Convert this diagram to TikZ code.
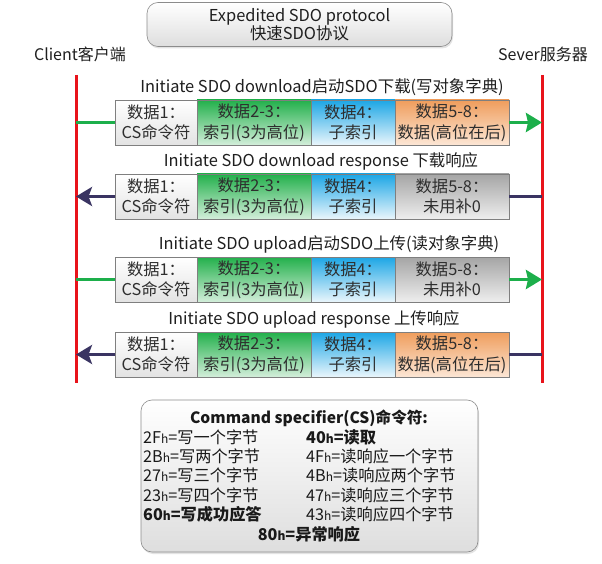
\documentclass[tikz,border=0pt]{standalone}
\usepackage{fontspec}
\setmainfont{Noto Sans CJK SC}
\usetikzlibrary{arrows.meta,positioning,calc,shadows}
\definecolor{lifered}{HTML}{E8131B}
\definecolor{sendgreen}{HTML}{1DAF4B}
\definecolor{backpurple}{HTML}{3A3462}
\definecolor{cellline}{HTML}{7F7F7F}
\tikzset{
  cellbox/.style={draw=cellline, line width=0.6pt, minimum height=45pt, inner sep=0pt,
                  outer sep=0pt, align=center, text=black!82,
                  font=\fontsize{16.3}{20.5}\selectfont},
  cellcs/.style={cellbox, minimum width=82pt, top color=white, bottom color=black!11},
  cellidx/.style={cellbox, minimum width=114pt, top color={rgb,255:red,34;green,176;blue,75},
                  bottom color={rgb,255:red,211;green,238;blue,218}},
  cellsub/.style={cellbox, minimum width=84pt, top color={rgb,255:red,28;green,166;blue,229},
                  bottom color={rgb,255:red,234;green,246;blue,252}},
  celldata/.style={cellbox, minimum width=114pt, top color={rgb,255:red,239;green,157;blue,92},
                   bottom color={rgb,255:red,252;green,230;blue,213}},
  cellnone/.style={cellbox, minimum width=114pt, top color={rgb,255:red,165;green,165;blue,165},
                   bottom color={rgb,255:red,238;green,238;blue,238}},
  rowlab/.style={inner sep=0pt, font=\fontsize{16.4}{18}\selectfont, text=black!88},
  sidelab/.style={inner sep=0pt, font=\fontsize{16}{18}\selectfont, text=black!88},
  lifeline/.style={draw=lifered, line width=3pt},
  sendline/.style={draw=sendgreen, line width=3.5pt},
  sendarr/.style={sendline, -{Stealth[length=16pt,width=19pt,inset=2pt]}},
  backline/.style={draw=backpurple, line width=3.5pt},
  backarr/.style={backline, -{Stealth[length=16pt,width=19pt,inset=3.5pt]}},
  roundbox/.style={draw=black!45, line width=0.6pt, rounded corners=11pt,
                   top color=white, bottom color=black!13,
                   drop shadow={opacity=0.22, shadow xshift=1pt, shadow yshift=-2pt}},
  cslab/.style={inner sep=0pt, anchor=west, font=\fontsize{16.2}{18}\selectfont, text=black!90},
}
\newcommand{\hx}{{\fontsize{12}{12}\selectfont h}}
\newcommand{\sdorow}[5]{%
  \node[cellcs, anchor=north west] (#1a) at (115,#2) {数据1：\\CS命令符};
  \node[cellidx, right=0pt of #1a] (#1b) {数据2-3：\\索引(3为高位)};
  \node[cellsub, right=0pt of #1b] (#1c) {数据4：\\子索引};
  \node[#3, right=0pt of #1c] (#1d) {数据5-8：\\#4};
  \node[rowlab, above=4pt of #1b.north east, xshift=#5] (#1t)
}

\begin{document}
\begin{tikzpicture}[x=1pt,y=-1pt]
\useasboundingbox[fill=white] (0,0) rectangle (602,564);

% title
\node[roundbox, minimum width=305pt, minimum height=44pt, align=center,
      font=\fontsize{16.4}{18.5}\selectfont, text=black!88] (title) at (299.5,24.5)
  {Expedited SDO protocol\\快速SDO协议};

% client and server
\node[sidelab] (client) at (80,54) {Client客户端};
\node[sidelab] (server) at (543,54) {Sever服务器};
\coordinate (cltop) at (76,75);
\coordinate (clbot) at (76,383);
\coordinate (svtop) at (542,75);
\coordinate (svbot) at (542,383);
\draw[lifeline] (cltop) -- (clbot);
\draw[lifeline] (svtop) -- (svbot);

% frames
\sdorow{r1}{100}{celldata}{数据(高位在后)}{11pt} {Initiate SDO download启动SDO下载(写对象字典)};
\sdorow{r2}{174}{cellnone}{未用补0}{10pt} {Initiate SDO download response 下载响应};
\sdorow{r3}{257}{cellnone}{未用补0}{18pt} {Initiate SDO upload启动SDO上传(读对象字典)};
\sdorow{r4}{332}{celldata}{数据(高位在后)}{3pt} {Initiate SDO upload response 上传响应};

\draw[sendline] (cltop |- r1a.west) -- (r1a.west);
\draw[sendarr] (r1d.east) -- (svtop |- r1d.east);
\draw[backline] (svtop |- r2d.east) -- (r2d.east);
\draw[backarr] (r2a.west) -- (cltop |- r2a.west);
\draw[sendline] (cltop |- r3a.west) -- (r3a.west);
\draw[sendarr] (r3d.east) -- (svtop |- r3d.east);
\draw[backline] (svtop |- r4d.east) -- (r4d.east);
\draw[backarr] (r4a.west) -- (cltop |- r4a.west);

% command specifier
\node[roundbox, minimum width=337pt, minimum height=152pt] (csbox) at (309.5,476) {};
\node[cslab, anchor=center, font=\fontsize{15.6}{18}\selectfont\bfseries] (cstitle) at (309,418)
  {Command specifier(CS)命令符:};
\foreach \lt/\rt [count=\i] in {
    {2F\hx=写一个字节}/{\bfseries 40\hx=读取},
    {2B\hx=写两个字节}/{4F\hx=读响应一个字节},
    {27\hx=写三个字节}/{4B\hx=读响应两个字节},
    {23\hx=写四个字节}/{47\hx=读响应三个字节},
    {\bfseries 60\hx=写成功应答}/{43\hx=读响应四个字节}}{%
  \node[cslab] (csl\i) at (143,417.7+19.3*\i) {\lt};
  \node[cslab] (csr\i) at (306,417.7+19.3*\i) {\rt};
}
\node[cslab, anchor=center, font=\fontsize{16.2}{18}\selectfont\bfseries] (csend) at (309,534)
  {80\hx=异常响应};
\end{tikzpicture}
\end{document}
